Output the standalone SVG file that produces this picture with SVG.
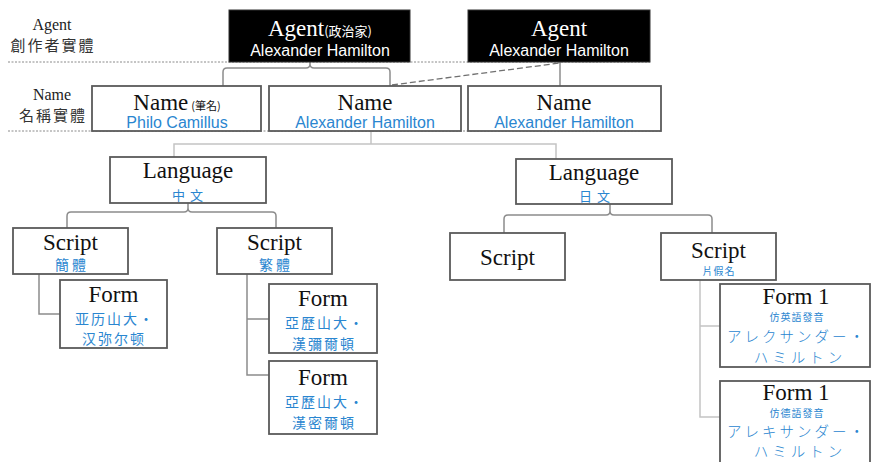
<svg xmlns="http://www.w3.org/2000/svg" width="872" height="462" viewBox="0 0 872 462">
  <style>
    .box { fill: #ffffff; stroke: #5a5a5a; stroke-width: 1.8; }
    .agent { fill: #000000; stroke: #333333; stroke-width: 1; }
    .title { font-family: "Liberation Serif", "Times New Roman", serif; font-size: 23px; fill: #111111; text-anchor: middle; }
    .atitle { font-family: "Liberation Serif", "Times New Roman", serif; font-size: 23px; fill: #ffffff; text-anchor: middle; }
    .awhite { font-family: "Liberation Sans", Arial, sans-serif; font-size: 16px; fill: #ffffff; text-anchor: middle; }
    .blue { font-family: "Liberation Sans", Arial, sans-serif; font-size: 16px; fill: #2a86d0; text-anchor: middle; }
    .cjk { font-family: "Noto Sans CJK TC", sans-serif; fill: #2a86d0; text-anchor: middle; }
    .cjksc { font-family: "Noto Sans CJK SC", sans-serif; fill: #2a86d0; text-anchor: middle; }
    .jp { font-family: "Noto Sans CJK JP", sans-serif; font-size: 14.5px; fill: #2a86d0; text-anchor: middle; font-weight: 300; }
    .lbl { font-family: "Liberation Serif", "Times New Roman", serif; font-size: 16px; fill: #222222; text-anchor: middle; }
    .lblcjk { font-family: "Noto Sans CJK TC", sans-serif; font-size: 15px; fill: #333333; text-anchor: middle; letter-spacing: 2px; }
    .sep { stroke: #8a8a8a; stroke-width: 1; stroke-dasharray: 2 1.5; fill: none; }
    .conn { fill: none; stroke: #8c8c8c; stroke-width: 1.5; }
    .conn-light { fill: none; stroke: #c4c4c4; stroke-width: 1.5; }
    .conn-dash { fill: none; stroke: #707070; stroke-width: 1.3; stroke-dasharray: 6 3; }
  </style>

  <!-- level separators and row labels -->
  <g id="row-labels">
    <line class="sep" x1="8" y1="62" x2="650" y2="62"/>
    <line class="sep" x1="8" y1="131" x2="661" y2="131"/>
    <text class="lbl" x="52" y="30">Agent</text>
    <text class="lblcjk" x="53" y="51">創作者實體</text>
    <text class="lbl" x="52" y="100">Name</text>
    <text class="lblcjk" x="53" y="121">名稱實體</text>
  </g>

  <!-- connectors -->
  <g id="connectors">
    <!-- agent 1 to its two names -->
    <path class="conn" d="M223,86 V72 Q223,68 227,68 H306 Q310,68 310,64 V62 M310,64 Q310,68 314,68 H386 Q390,68 390,72 V86"/>
    <!-- agent 2 to names -->
    <path class="conn-dash" d="M392,85 L560,63"/>
    <line class="conn" x1="560" y1="62" x2="560" y2="86"/>
    <!-- name to languages -->
    <path class="conn-light" d="M371,131 V144 M174,157 V144 H556 V159"/>
    <!-- language 中文 to scripts -->
    <path class="conn" d="M188,203 V208 Q188,212 184,212 H71 Q67,212 67,216 V228 M188,208 Q188,212 192,212 H272 Q276,212 276,216 V228"/>
    <!-- language 日文 to scripts -->
    <path class="conn" d="M610,204 V211 Q610,215 606,215 H508 Q504,215 504,219 V233 M610,211 Q610,215 614,215 H708 Q712,215 712,219 V233"/>
    <!-- script to forms -->
    <path class="conn" d="M39,274 V314 H60"/>
    <path class="conn" d="M247,274 V375 H269 M247,319 H269"/>
    <path class="conn-light" d="M700,280 V417 H720 M700,326 H720"/>
  </g>

  <!-- agents -->
  <g id="agent-politician">
    <rect class="agent" x="229" y="10" width="181" height="52"/>
    <text class="atitle" x="320" y="36">Agent<tspan font-family="Noto Sans CJK TC, sans-serif" font-size="13px">(政治家)</tspan></text>
    <text class="awhite" x="320" y="56">Alexander Hamilton</text>
  </g>
  <g id="agent-hamilton">
    <rect class="agent" x="468" y="10" width="182" height="52"/>
    <text class="atitle" x="559" y="36">Agent</text>
    <text class="awhite" x="559" y="56">Alexander Hamilton</text>
  </g>

  <!-- names -->
  <g id="name-pen">
    <rect class="box" x="92" y="86" width="169" height="45"/>
    <text class="title" x="177" y="110">Name<tspan font-family="Noto Sans CJK TC, sans-serif" font-size="11px" dx="3">(筆名)</tspan></text>
    <text class="blue" x="177" y="128">Philo Camillus</text>
  </g>
  <g id="name-1">
    <rect class="box" x="269" y="86" width="192" height="45"/>
    <text class="title" x="365" y="110">Name</text>
    <text class="blue" x="365" y="128">Alexander Hamilton</text>
  </g>
  <g id="name-2">
    <rect class="box" x="468" y="86" width="193" height="45"/>
    <text class="title" x="564" y="110">Name</text>
    <text class="blue" x="564" y="128">Alexander Hamilton</text>
  </g>

  <!-- languages -->
  <g id="language-zh">
    <rect class="box" x="110" y="157" width="156" height="46"/>
    <text class="title" x="188" y="178">Language</text>
    <text class="cjk" x="190" y="200" font-size="13px" letter-spacing="5">中文</text>
  </g>
  <g id="language-ja">
    <rect class="box" x="516" y="159" width="156" height="45"/>
    <text class="title" x="594" y="180">Language</text>
    <text class="cjk" x="597" y="201" font-size="13px" letter-spacing="5">日文</text>
  </g>

  <!-- scripts -->
  <g id="script-simplified">
    <rect class="box" x="13" y="228" width="115" height="46"/>
    <text class="title" x="70.5" y="250">Script</text>
    <text class="cjk" x="72" y="270" font-size="14px" letter-spacing="3">簡體</text>
  </g>
  <g id="script-traditional">
    <rect class="box" x="217" y="228" width="115" height="46"/>
    <text class="title" x="274.5" y="250">Script</text>
    <text class="cjk" x="276" y="270" font-size="14px" letter-spacing="3">繁體</text>
  </g>
  <g id="script-ja">
    <rect class="box" x="450" y="233" width="115" height="47"/>
    <text class="title" x="507.5" y="265">Script</text>
  </g>
  <g id="script-katakana">
    <rect class="box" x="661" y="233" width="115" height="47"/>
    <text class="title" x="718.5" y="258">Script</text>
    <text class="cjk" x="719" y="275" font-size="10px" letter-spacing="1">片假名</text>
  </g>

  <!-- forms -->
  <g id="form-simplified">
    <rect class="box" x="60" y="280" width="107" height="68"/>
    <text class="title" x="113.5" y="302">Form</text>
    <text class="cjksc" x="115" y="324" font-size="14px" letter-spacing="2">亚历山大·</text>
    <text class="cjksc" x="114" y="344" font-size="14px" letter-spacing="2">汉弥尔顿</text>
  </g>
  <g id="form-traditional-1">
    <rect class="box" x="269" y="284" width="108" height="69"/>
    <text class="title" x="323" y="306">Form</text>
    <text class="cjk" x="325" y="328" font-size="14px" letter-spacing="2">亞歷山大·</text>
    <text class="cjk" x="324" y="349" font-size="14px" letter-spacing="2">漢彌爾頓</text>
  </g>
  <g id="form-traditional-2">
    <rect class="box" x="269" y="361" width="108" height="73"/>
    <text class="title" x="323" y="385">Form</text>
    <text class="cjk" x="325" y="407" font-size="14px" letter-spacing="2">亞歷山大·</text>
    <text class="cjk" x="324" y="428" font-size="14px" letter-spacing="2">漢密爾頓</text>
  </g>
  <g id="form-katakana-en">
    <rect class="box" x="720" y="284" width="150" height="83"/>
    <text class="title" x="796" y="304">Form 1</text>
    <text class="cjk" x="797" y="321" font-size="10px" letter-spacing="1">仿英語發音</text>
    <text class="jp" x="797" y="342" letter-spacing="3">アレクサンダー・</text>
    <text class="jp" x="800" y="363" letter-spacing="4">ハミルトン</text>
  </g>
  <g id="form-katakana-de">
    <rect class="box" x="720" y="381" width="150" height="90"/>
    <text class="title" x="796" y="400">Form 1</text>
    <text class="cjk" x="797" y="417" font-size="10px" letter-spacing="1">仿德語發音</text>
    <text class="jp" x="797" y="437" letter-spacing="3">アレキサンダー・</text>
    <text class="jp" x="800" y="457" letter-spacing="4">ハミルトン</text>
  </g>
</svg>
